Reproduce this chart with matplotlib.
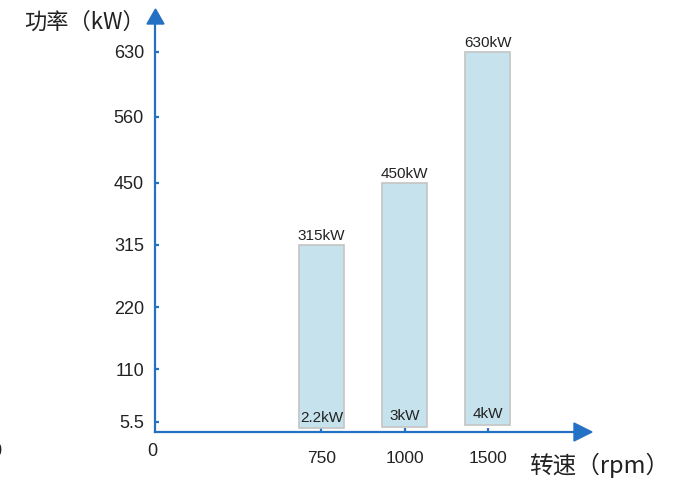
import numpy as np
import matplotlib.pyplot as plt
from matplotlib.patches import Polygon

plt.rcParams['font.family'] = ['Liberation Sans', 'Noto Sans CJK SC']

# 转速档位与功率范围
speeds = ['750', '1000', '1500']
p_min = [2.2, 3, 4]
p_max = [315, 450, 630]
min_labels = ['2.2kW', '3kW', '4kW']
max_labels = ['315kW', '450kW', '630kW']
y_ticks = [5.5, 110, 220, 315, 450, 560, 630]

# 纵轴为示意刻度，分段线性
knot_vals = np.array([0, 5.5, 110, 220, 315, 450, 560, 630, 1000])
knot_pos = np.array([0, 10, 63, 125, 187, 249, 315, 380, 723])


def fwd(v):
    return np.interp(v, knot_vals, knot_pos)


def inv(u):
    return np.interp(u, knot_pos, knot_vals)


blue = '#2470c4'
W, H = 698, 480
fig = plt.figure(figsize=(W / 100, H / 100), dpi=100)
ax = fig.add_axes([155 / W, 48 / H, 420 / W, 408 / H])
ax.set_yscale('function', functions=(fwd, inv))

x = np.arange(len(speeds))
heights = [b - a for a, b in zip(p_min, p_max)]
ax.bar(x, heights, bottom=p_min, width=0.54, color='#c6e3ed',
       edgecolor='#c4c4c4', linewidth=1.2, zorder=2)

for xi, lo, hi, tl, bl in zip(x, p_min, p_max, max_labels, min_labels):
    ax.annotate(tl, (xi, hi), xytext=(0, 1.5), textcoords='offset points',
                ha='center', va='bottom', fontsize=11, color='#222222')
    ax.annotate(bl, (xi, lo), xytext=(0, 2.5), textcoords='offset points',
                ha='center', va='bottom', fontsize=11, color='#222222')

ax.set_xlim(-2.0, 3.05)
ax.set_ylim(0, inv(408))
ax.set_xticks(x)
ax.set_xticklabels(speeds)
ax.set_yticks(y_ticks)
ax.set_yticklabels(['5.5', '110', '220', '315', '450', '560', '630'])
ax.minorticks_off()

for s in ['top', 'right']:
    ax.spines[s].set_visible(False)
for s in ['left', 'bottom']:
    ax.spines[s].set_color(blue)
    ax.spines[s].set_linewidth(1.6)
ax.tick_params(axis='y', direction='in', length=3, width=1.6, color=blue,
               pad=8, labelsize=13, labelcolor='#222222')
ax.tick_params(axis='x', direction='in', length=3, width=1.6, color=blue,
               pad=14, labelsize=12.5, labelcolor='#222222')

# 坐标轴箭头
def px(xp, yp):
    return (xp / W, 1 - yp / H)

fig.add_artist(Polygon([px(147, 24), px(164, 24), px(155.5, 9)],
                       closed=True, color=blue, transform=fig.transFigure))
fig.add_artist(Polygon([px(574, 423), px(574, 441), px(592, 432)],
                       closed=True, color=blue, transform=fig.transFigure))

fig.text(*px(85, 22), '功率（kW）', ha='center', va='center', fontsize=16,
         family=['Noto Sans CJK SC'], color='#222222')
fig.text(*px(599, 465), '转速（rpm）', ha='center', va='center', fontsize=17,
         family=['Noto Sans CJK SC'], color='#222222')
fig.text(*px(152, 452), '0', ha='center', va='center', fontsize=13,
         color='#222222')
fig.text(*px(-4, 452), '0', ha='center', va='center', fontsize=13,
         color='#222222')

fig.savefig('out.png', dpi=100)
